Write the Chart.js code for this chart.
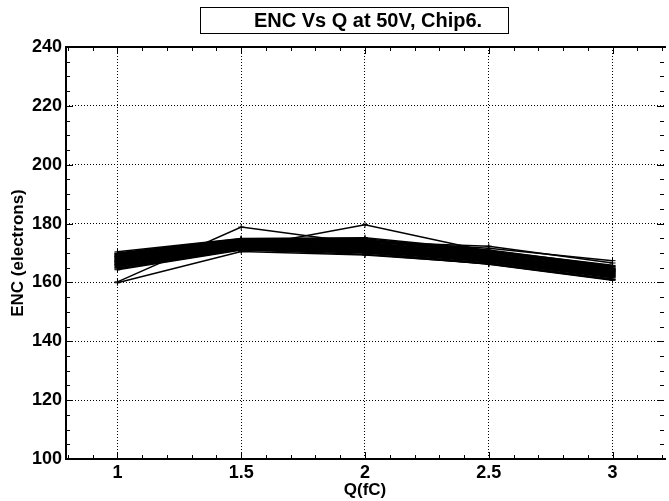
<!DOCTYPE html>
<html>
<head>
<meta charset="utf-8">
<title>ENC Vs Q at 50V, Chip6.</title>
<script src="https://cdn.jsdelivr.net/npm/chart.js@4/dist/chart.umd.min.js"></script>
<style>
  html, body { margin: 0; padding: 0; background: #fff; }
  #wrap { width: 669px; height: 501px; position: relative; }
</style>
</head>
<body>
<div id="wrap"><canvas id="myChart"></canvas></div>
<script>
// injected charge points (fC)
const charges = [1, 1.5, 2, 2.5, 3];

// ENC per channel (electrons)
const ch00 = [167.2, 173.1, 172.0, 168.4, 163.1];
const ch01 = [168.5, 174.0, 173.2, 169.5, 164.2];
const ch02 = [166.1, 172.4, 171.3, 167.9, 162.5];
const ch03 = [169.3, 174.6, 174.1, 170.2, 165.0];
const ch04 = [165.4, 171.8, 170.6, 167.1, 161.8];
const ch05 = [167.8, 173.5, 172.7, 169.0, 163.6];
const ch06 = [170.4, 174.9, 175.2, 171.0, 165.6];
const ch07 = [164.6, 171.2, 170.0, 166.6, 161.2];
const ch08 = [168.0, 173.8, 172.4, 168.8, 163.9];
const ch09 = [166.7, 172.9, 171.8, 168.1, 162.8];
const ch10 = [169.0, 174.3, 173.6, 169.9, 164.7];
const ch11 = [165.9, 172.1, 171.0, 167.5, 162.2];
const ch12 = [167.5, 173.3, 172.9, 168.6, 163.4];
const ch13 = [168.8, 174.1, 173.0, 169.3, 164.4];
const ch14 = [166.4, 172.6, 171.6, 167.8, 162.9];
const ch15 = [169.7, 174.7, 174.5, 170.6, 165.3];
const ch16 = [165.1, 171.5, 170.4, 166.9, 161.6];
const ch17 = [167.0, 172.8, 172.2, 168.3, 163.0];
const ch18 = [168.3, 173.6, 173.4, 169.6, 164.0];
const ch19 = [166.9, 173.0, 171.5, 168.0, 162.6];
const ch20 = [164.3, 171.0, 169.6, 166.3, 160.9];
const ch21 = [169.5, 174.4, 173.9, 170.4, 165.4];
const ch22 = [167.6, 173.2, 172.5, 168.9, 163.7];
const ch23 = [166.3, 172.2, 171.1, 167.4, 162.3];
const ch24 = [168.6, 173.9, 172.8, 169.1, 164.1];
const ch25 = [165.7, 171.9, 170.9, 167.2, 161.9];
const ch26 = [170.0, 174.8, 174.8, 170.8, 165.8];
const ch27 = [167.3, 173.4, 172.3, 168.5, 163.3];
const ch28 = [168.1, 173.7, 173.1, 169.2, 164.5];
const ch29 = [166.0, 172.5, 170.8, 167.6, 162.1];
const ch30 = [164.9, 171.4, 170.2, 166.2, 160.7];
const ch31 = [169.1, 174.5, 174.3, 170.1, 164.8];
const ch32 = [160.2, 178.8, 173.2, 169.4, 163.8];
const ch33 = [159.9, 170.5, 169.3, 166.4, 161.0];
const ch34 = [167.0, 171.8, 179.6, 170.5, 164.5];
const ch35 = [168.9, 174.0, 173.8, 172.3, 166.6];
const ch36 = [169.8, 174.6, 174.0, 171.6, 167.4];

const channels = [ch00, ch01, ch02, ch03, ch04, ch05, ch06, ch07, ch08, ch09,
    ch10, ch11, ch12, ch13, ch14, ch15, ch16, ch17, ch18, ch19,
    ch20, ch21, ch22, ch23, ch24, ch25, ch26, ch27, ch28, ch29,
    ch30, ch31, ch32, ch33, ch34, ch35, ch36];

// axis ticks
const xTicks = [1, 1.5, 2, 2.5, 3];
const yMin = 100, yMax = 240, yStep = 20;

const FONT = "'Liberation Sans', Arial, Helvetica, sans-serif";
const NARROW = "'Liberation Sans Narrow', 'Arial Narrow', 'Liberation Sans', sans-serif";

const datasets = channels.map((vals, i) => ({
    label: 'ch' + i,
    data: vals.map((v, k) => ({ x: charges[k], y: v })),
    borderColor: '#000',
    backgroundColor: '#000',
    borderWidth: 1.5,
    pointStyle: 'cross',
    pointRadius: 3,
    pointBorderWidth: 1,
    tension: 0,
    fill: false
}));

// white background, ROOT-like frame with ticks on every side, boxed title
const rootFrame = {
    id: 'rootFrame',
    beforeDraw(chart) {
        const ctx = chart.ctx;
        ctx.save();
        ctx.fillStyle = '#fff';
        ctx.fillRect(0, 0, chart.width, chart.height);
        ctx.restore();
    },
    afterDatasetsDraw(chart) {
        const { ctx, chartArea: a } = chart;
        const xs = chart.scales.x, ys = chart.scales.y;
        ctx.save();
        ctx.strokeStyle = '#000';
        ctx.lineWidth = 1;
        ctx.beginPath();
        // x ticks, every 0.1, major at 0.5
        for (let i = 8; i <= 32; i++) {
            const v = i / 10;
            const px = Math.round(xs.getPixelForValue(v)) + 0.5;
            if (px < a.left || px > a.right) continue;
            const len = (i % 5 === 0) ? 7 : 4;
            ctx.moveTo(px, a.bottom); ctx.lineTo(px, a.bottom - len);
            ctx.moveTo(px, a.top); ctx.lineTo(px, a.top + len);
        }
        // y ticks, every 5, major at 20
        for (let v = yMin; v <= yMax; v += 5) {
            const py = Math.round(ys.getPixelForValue(v)) + 0.5;
            const len = (v % 20 === 0) ? 7 : 4;
            ctx.moveTo(a.left, py); ctx.lineTo(a.left + len, py);
            ctx.moveTo(a.right, py); ctx.lineTo(a.right - len, py);
        }
        ctx.stroke();
        // frame
        ctx.lineWidth = 2;
        ctx.beginPath();
        ctx.moveTo(a.right + 2, a.top);
        ctx.lineTo(a.left, a.top);
        ctx.lineTo(a.left, a.bottom);
        ctx.lineTo(a.right + 2, a.bottom);
        ctx.stroke();
        // title box
        ctx.lineWidth = 1;
        ctx.fillStyle = '#fff';
        ctx.fillRect(200.5, 7.5, 308, 26);
        ctx.strokeRect(200.5, 7.5, 308, 26);
        ctx.fillStyle = '#000';
        ctx.font = 'bold 20px ' + FONT;
        ctx.textAlign = 'center';
        ctx.textBaseline = 'middle';
        ctx.fillText('ENC Vs Q at 50V, Chip6.', 368, 21);
        ctx.restore();
    }
};

const ctx = document.getElementById('myChart').getContext('2d');
const chart = new Chart(ctx, {
    type: 'line',
    data: { datasets: datasets },
    options: {
        responsive: true,
        maintainAspectRatio: false,
        animation: false,
        layout: { padding: { top: 47, left: 0, right: 0, bottom: 0 } },
        plugins: {
            legend: { display: false },
            title: { display: false },
            tooltip: { enabled: false }
        },
        scales: {
            x: {
                type: 'linear',
                min: 0.792,
                max: 3.208,
                afterBuildTicks: scale => {
                    scale.ticks = xTicks.map(v => ({ value: v }));
                },
                afterFit: scale => { scale.height = 42; },
                ticks: {
                    color: '#000',
                    padding: 3,
                    maxRotation: 0,
                    font: { family: NARROW, size: 18, weight: 'bold' },
                    callback: v => String(v)
                },
                grid: { color: '#000', lineWidth: 1, drawTicks: false },
                border: { display: false, dash: [1, 2] },
                title: {
                    display: true,
                    text: 'Q(fC)',
                    color: '#000',
                    padding: { top: 0, bottom: 0 },
                    font: { family: FONT, size: 17, weight: 'bold' }
                }
            },
            y: {
                min: yMin,
                max: yMax,
                afterFit: scale => { scale.width = 66; },
                ticks: {
                    stepSize: yStep,
                    color: '#000',
                    padding: 4,
                    font: { family: NARROW, size: 18, weight: 'bold' }
                },
                grid: { color: '#000', lineWidth: 1, drawTicks: false },
                border: { display: false, dash: [1, 2] },
                title: {
                    display: true,
                    text: 'ENC (electrons)',
                    color: '#000',
                    padding: { top: 8, bottom: 0 },
                    font: { family: FONT, size: 17, weight: 'bold' }
                }
            }
        }
    },
    plugins: [rootFrame]
});
</script>
</body>
</html>
